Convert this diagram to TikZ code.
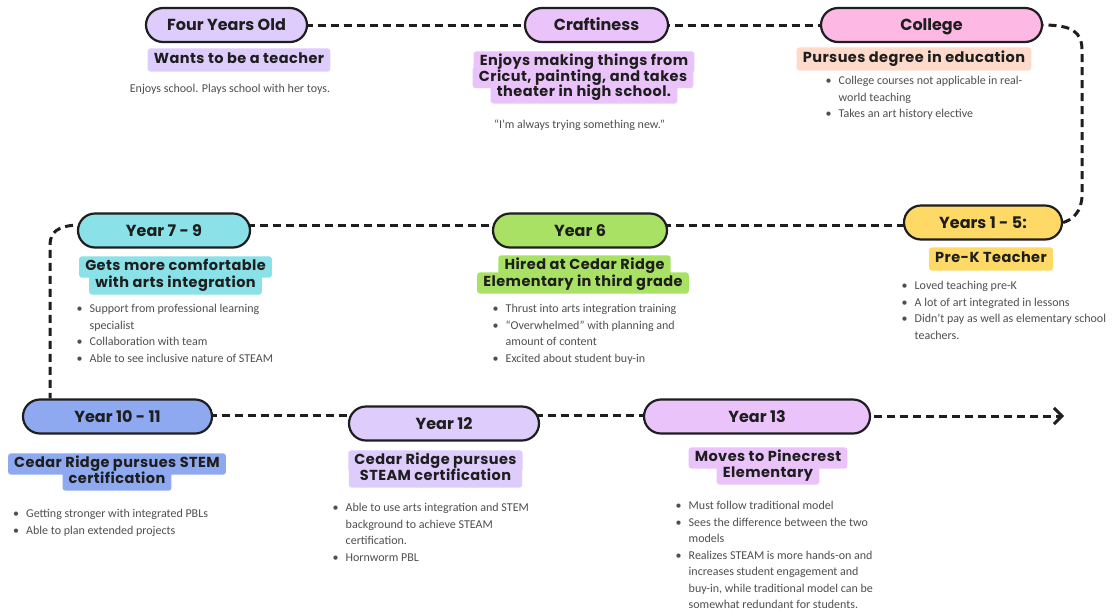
\documentclass[tikz,border=0pt]{standalone}
\usepackage{fontspec}
\setmainfont{Carlito}
\newfontfamily\headfont{Poppins}
\newfontfamily\labelfont{Poppins}[LetterSpace=3]
\usetikzlibrary{arrows.meta,backgrounds}

\definecolor{lav}{HTML}{DDCCFC}
\definecolor{orchid}{HTML}{EBC3FB}
\definecolor{pinkc}{HTML}{FDB8E4}
\definecolor{peach}{HTML}{FDDACA}
\definecolor{gold}{HTML}{FFD966}
\definecolor{lime}{HTML}{A8E163}
\definecolor{aqua}{HTML}{8AE1E7}
\definecolor{periw}{HTML}{8EA9EF}
\definecolor{ink}{HTML}{1E1E1E}
\definecolor{bodygray}{HTML}{4F4F4F}

\tikzset{
  pill/.style={draw=ink, line width=2.2pt, rounded corners=17pt, minimum height=34pt,
    inner sep=0pt, text height=11.2pt, text depth=0pt, text=ink,
    font=\headfont\bfseries\fontsize{16pt}{18pt}\selectfont},
  hl/.style={inner xsep=6pt, inner ysep=4pt, text height=10pt, text depth=3pt, text=ink,
    font=\labelfont\bfseries\fontsize{14.5pt}{16pt}\selectfont},
  hlone/.style={hl, inner ysep=5pt},
  hlfill/.style={rounded corners=3pt},
  body/.style={inner sep=0pt, text=bodygray, font=\fontsize{12pt}{16.5pt}\selectfont},
  blist/.style={body, anchor=north west, align=left},
  conn/.style={draw=ink, line width=3pt, dash pattern=on 8pt off 5pt},
}
\newcommand{\bul}{\makebox[13pt][l]{\textbullet}}

\begin{document}
\begin{tikzpicture}[x=1pt, y=-1pt]
\useasboundingbox (0,0) rectangle (1120,614);

% milestone pills
\node[pill, fill=lav,    minimum width=161pt] (four)     at (226.5,25)  {Four Years Old};
\node[pill, fill=orchid, minimum width=143pt] (craft)    at (596.5,25)  {Craftiness};
\node[pill, fill=pinkc,  minimum width=221pt] (college)  at (931.5,25)  {College};
\node[pill, fill=gold,   minimum width=158pt] (years15)  at (983,222.5) {Years 1 - 5:};
\node[pill, fill=lime,   minimum width=174pt] (year6)    at (580,230.5) {Year 6};
\node[pill, fill=aqua,   minimum width=172pt] (year79)   at (164,230.5) {Year 7 - 9};
\node[pill, fill=periw,  minimum width=189pt] (year1011) at (117.5,416.5) {Year 10 - 11};
\node[pill, fill=lav,    minimum width=190pt] (year12)   at (444,423.5) {Year 12};
\node[pill, fill=orchid, minimum width=226pt] (year13)   at (757,416.5) {Year 13};

% highlighted headlines (fills are laid on the background layer)
\node[hlone] (wants)   at (239,60)    {Wants to be a teacher};
\node[hl]    (craftA)  at (584,62)    {Enjoys making things from};
\node[hl]    (craftB)  at (583,77.5)  {Cricut, painting, and takes};
\node[hl]    (craftC)  at (584,93)    {theater in high school.};
\node[hlone] (pursues) at (914,59)    {Pursues degree in education};
\node[hlone] (prek)    at (991,259)   {Pre-K Teacher};
\node[hl]    (hiredA)  at (584.5,266) {Hired at Cedar Ridge};
\node[hl]    (hiredB)  at (583,283)   {Elementary in third grade};
\node[hl]    (getsA)   at (175.5,267) {Gets more comfortable};
\node[hl]    (getsB)   at (175.5,284) {with arts integration};
\node[hl]    (stemA)   at (117,464)   {Cedar Ridge pursues STEM};
\node[hl]    (stemB)   at (117,480)   {certification};
\node[hl, minimum width=173pt] (steamA) at (435.5,461) {Cedar Ridge pursues};
\node[hl, minimum width=173pt] (steamB) at (435.5,477) {STEAM certification};
\node[hl]    (movesA)  at (768,458)   {Moves to Pinecrest};
\node[hl]    (movesB)  at (768,474)   {Elementary};

% notes
\node[body] (toys)  at (230,89)  {Enjoys school. Plays school with her toys.};
\node[body] (quote) at (579.5,125) {“I'm always trying something new.”};

\node[blist] (collegeNotes) at (825.5,73) {\begin{tabular}{@{}l@{}l@{}}
\bul & College courses not applicable in real-\\
 & world teaching\\
\bul & Takes an art history elective
\end{tabular}};

\node[blist] (prekNotes) at (901.5,278) {\begin{tabular}{@{}l@{}l@{}}
\bul & Loved teaching pre-K\\
\bul & A lot of art integrated in lessons\\
\bul & Didn’t pay as well as elementary school\\
 & teachers.
\end{tabular}};

\node[blist] (year6Notes) at (492.5,301) {\begin{tabular}{@{}l@{}l@{}}
\bul & Thrust into arts integration training\\
\bul & “Overwhelmed” with planning and\\
 & amount of content\\
\bul & Excited about student buy-in
\end{tabular}};

\node[blist] (year79Notes) at (76.5,301) {\begin{tabular}{@{}l@{}l@{}}
\bul & Support from professional learning\\
 & specialist\\
\bul & Collaboration with team\\
\bul & Able to see inclusive nature of STEAM
\end{tabular}};

\node[blist] (year1011Notes) at (13,506) {\begin{tabular}{@{}l@{}l@{}}
\bul & Getting stronger with integrated PBLs\\
\bul & Able to plan extended projects
\end{tabular}};

\node[blist] (year12Notes) at (332.5,500) {\begin{tabular}{@{}l@{}l@{}}
\bul & Able to use arts integration and STEM\\
 & background to achieve STEAM\\
 & certification.\\
\bul & Hornworm PBL
\end{tabular}};

\node[blist] (year13Notes) at (675.5,498) {\begin{tabular}{@{}l@{}l@{}}
\bul & Must follow traditional model\\
\bul & Sees the difference between the two\\
 & models\\
\bul & Realizes STEAM is more hands-on and\\
 & increases student engagement and\\
 & buy-in, while traditional model can be\\
 & somewhat redundant for students.
\end{tabular}};

\coordinate (vx) at (50,0);
\coordinate (arrowend) at (1064,416);

\begin{scope}[on background layer]
  \fill[white] (0,0) rectangle (1120,614);
  % headline highlights
  \foreach \n/\c in {wants/lav, craftA/orchid, craftB/orchid, craftC/orchid,
      pursues/peach, prek/gold, hiredA/lime, hiredB/lime, getsA/aqua, getsB/aqua,
      stemA/periw, stemB/periw, steamA/lav, steamB/lav, movesA/orchid, movesB/orchid}
    \fill[hlfill, \c] (\n.south west) rectangle (\n.north east);
  % timeline path
  \draw[conn] (four.center) -- (craft.center);
  \draw[conn] (craft.center) -- (college.center);
  \draw[conn] (college.center) -- (college.east)
    .. controls (1072,25) and (1082,32) .. (1082,50) -- (1082,195)
    .. controls (1082,212) and (1072,220) .. (years15.east);
  \draw[conn] ([yshift=-2.5pt]years15.center) -- ([yshift=5.5pt]year6.center);
  \draw[conn] ([yshift=5.5pt]year6.center) -- ([yshift=5.5pt]year79.center);
  \draw[conn] ([yshift=5.5pt]year79.center) -- ([yshift=5.5pt]year79.west)
    .. controls (58,226) and (50,232) .. (50,245) -- (year1011.north -| vx);
  \draw[conn] ([yshift=1.5pt]year1011.center) -- ([yshift=8.5pt]year12.center);
  \draw[conn] ([yshift=8.5pt]year12.center) -- ([yshift=1.5pt]year13.center);
  \draw[conn, -{Straight Barb[length=8pt,width=16pt]}]
    ([yshift=0.5pt]year13.center) -- (arrowend);
\end{scope}
\end{tikzpicture}
\end{document}
